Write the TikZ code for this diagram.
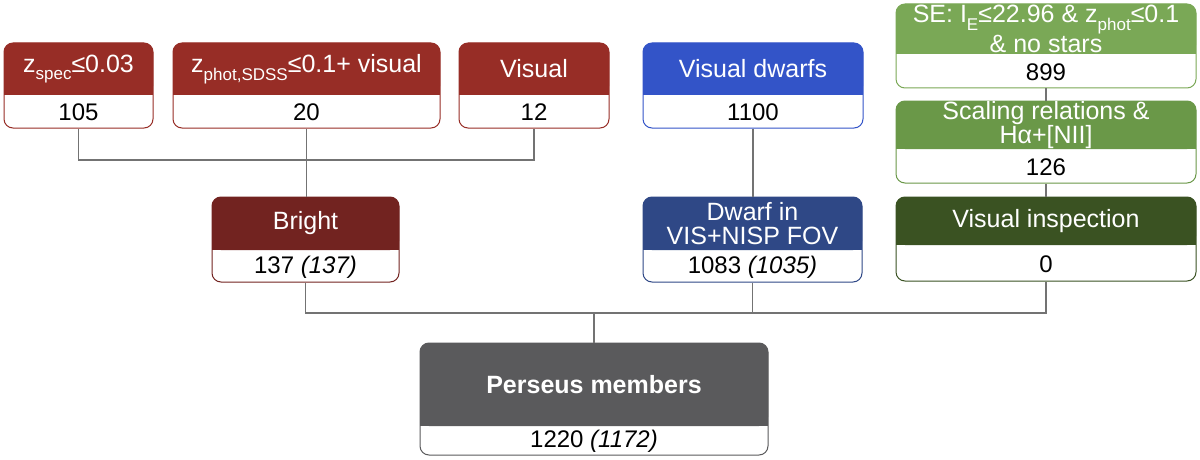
\documentclass[tikz,border=0pt]{standalone}
\usepackage{fontspec}
\setmainfont{Liberation Sans}
\usetikzlibrary{fit}
\definecolor{hred}{RGB}{151,45,38}
\definecolor{hdred}{RGB}{114,35,32}
\definecolor{hblue}{RGB}{51,84,200}
\definecolor{hdblue}{RGB}{47,72,134}
\definecolor{hgone}{RGB}{122,168,86}
\definecolor{hgtwo}{RGB}{106,152,72}
\definecolor{hgthree}{RGB}{58,82,34}
\definecolor{hgray}{RGB}{90,90,92}
\definecolor{linegray}{RGB}{115,115,115}
\newcommand\lowtxt[1]{\raisebox{-0.3em}{\fontsize{17}{17}\selectfont #1}}
\tikzset{
  conn/.style={draw=linegray, line width=1.2pt},
  hdr/.style={text=white, font=\fontsize{25}{24}\selectfont, align=center, inner sep=0pt},
  num/.style={text=black, font=\fontsize{24}{24}\selectfont, inner sep=0pt},
  boxframe/.style={draw=#1, fill=white, rounded corners=9pt, line width=1pt, inner sep=0pt}
}
% #1 name #2 x1 #3 y1 #4 x2 #5 yh #6 y2 #7 colour #8 header #9 number
\newcommand\flowbox[9]{%
  \node[boxframe=#7, fit={(#2,#3) (#4,#6)}] (#1) {};
  \fill[#7, rounded corners=9pt] (#2,#3) rectangle (#4,#5);
  \fill[#7] (#2,{#5-10}) rectangle (#4,#5);
  \node[hdr] (#1-h) at ({(#2+#4)/2},{(#3+#5)/2}) {#8};
  \node[num] (#1-n) at ({(#2+#4)/2},{(#5+#6)/2+1}) {#9};
}
\begin{document}
\begin{tikzpicture}[x=1pt,y=-1pt]
\useasboundingbox (0,0) rectangle (1200,460);
\fill[white] (0,0) rectangle (1200,460);

\flowbox{zs}{4}{43}{153}{95}{128}{hred}{z\lowtxt{spec}≤0.03}{105}
\flowbox{zp}{173}{43}{440}{95}{128}{hred}{z\lowtxt{phot,SDSS}≤0.1+ visual}{20}
\flowbox{vis}{459}{43}{609}{95}{128}{hred}{Visual}{12}
\flowbox{vd}{643}{43}{863}{95}{128}{hblue}{Visual dwarfs}{1100}
\flowbox{br}{212}{197}{399}{250}{282}{hdred}{Bright}{137 \textit{(137)}}
\flowbox{dw}{643}{197}{862}{250}{282}{hdblue}{Dwarf in\\VIS+NISP FOV}{1083 \textit{(1035)}}
\flowbox{se}{896}{4}{1196}{54}{88}{hgone}{SE: I\lowtxt{E}≤22.96 \& z\lowtxt{phot}≤0.1\\\& no stars}{899}
\flowbox{sc}{896}{101}{1196}{149}{183}{hgtwo}{Scaling relations \&\\Hα+[NII]}{126}
\flowbox{vi}{896}{197}{1196}{245}{281}{hgthree}{Visual inspection}{0}
\flowbox{pm}{420}{343}{768}{426}{455}{hgray}{\textbf{Perseus members}}{1220 \textit{(1172)}}

\coordinate (j1) at (306,160);
\coordinate (j2) at (594,313);
\draw[conn] (zs.south) |- (j1) -| (vis.south);
\draw[conn] (zp.south) -- (zp.south |- br.north);
\draw[conn] (vd.south) -- (vd.south |- dw.north);
\draw[conn] (se.south) -- (sc.north);
\draw[conn] (sc.south) -- (vi.north);
\draw[conn] (br.south) |- (j2) -| (vi.south);
\draw[conn] (dw.south) -- (dw.south |- j2);
\draw[conn] (pm.north) -- (pm.north |- j2);
\end{tikzpicture}
\end{document}
